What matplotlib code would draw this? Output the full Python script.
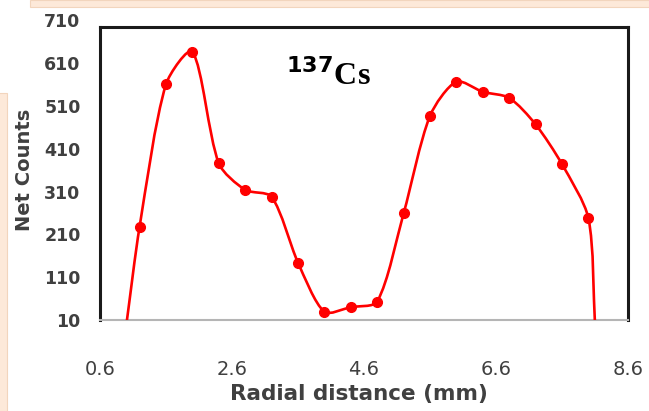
import numpy as np
import matplotlib
matplotlib.use("Agg")
import matplotlib.pyplot as plt
from matplotlib.path import Path
from matplotlib.patches import PathPatch, Rectangle

# radial scan data (137Cs)
radial_mm = [1.0, 1.2, 1.6, 2.0, 2.4, 2.8, 3.2, 3.6, 4.0, 4.4, 4.8,
             5.2, 5.6, 6.0, 6.4, 6.8, 7.2, 7.6, 8.0, 8.1]
net_counts = [0, 228, 561, 637, 376, 314, 298, 144, 29, 40, 53,
              259, 487, 567, 543, 529, 467, 374, 248, 0]
marked = slice(1, -1)  # edge points carry no marker

x_ticks = [0.6, 2.6, 4.6, 6.6, 8.6]
y_ticks = [10, 110, 210, 310, 410, 510, 610, 710]

label_col = "#404040"
peach = "#fde9d9"

fig = plt.figure(figsize=(6.49, 4.11), dpi=100)
fig.patch.set_facecolor("white")

# decorative page strips from the original screenshot
fig.patches.append(Rectangle((30 / 649, 1 - 7 / 411), 1, 7 / 411, transform=fig.transFigure,
                             facecolor=peach, edgecolor="#f2d5bd", lw=0.8, zorder=0))
fig.patches.append(Rectangle((-0.01, 0), 6.5 / 649 + 0.01, 1 - 93 / 411, transform=fig.transFigure,
                             facecolor=peach, edgecolor="#f2d5bd", lw=0.8, zorder=0))

ax = fig.add_axes([100 / 649, 1 - 320 / 411, 528 / 649, 299.6 / 411])
ax.set_xlim(0.6, 8.6)
ax.set_ylim(10, 710)

# smooth line through the points, Bezier segments built in screen space
# with control arms scaled by neighbouring segment lengths (Excel-like)
pts = ax.transData.transform(np.column_stack([radial_mm, net_counts]).astype(float))
n = len(pts)
tension = 0.27
verts = [pts[0]]
codes = [Path.MOVETO]
for i in range(n - 1):
    p0 = pts[max(i - 1, 0)]
    p1 = pts[i]
    p2 = pts[i + 1]
    p3 = pts[min(i + 2, n - 1)]
    d01 = np.hypot(*(p1 - p0))
    d12 = np.hypot(*(p2 - p1))
    d23 = np.hypot(*(p3 - p2))
    c1 = p1 + tension * (p2 - p0) * d12 / max(d01 + d12, 1e-9)
    c2 = p2 - tension * (p3 - p1) * d12 / max(d12 + d23, 1e-9)
    verts += [c1, c2, p2]
    codes += [Path.CURVE4] * 3
verts = ax.transData.inverted().transform(np.array(verts))
curve = PathPatch(Path(verts, codes), facecolor="none", edgecolor="#ff0000", lw=1.9, zorder=3)
ax.add_patch(curve)
curve.set_clip_path(ax.patch)

ax.plot(radial_mm[marked], net_counts[marked], linestyle="none", marker="o",
        markersize=7, color="#ff0000", zorder=4)

ax.set_xticks(x_ticks)
ax.set_xticklabels([f"{t:.1f}" for t in x_ticks])
ax.set_yticks(y_ticks)
ax.tick_params(axis="both", length=0, colors=label_col)
ax.tick_params(axis="x", pad=29, labelsize=14)
ax.tick_params(axis="y", pad=14, labelsize=12.5)
for lab in ax.get_xticklabels() + ax.get_yticklabels():
    lab.set_fontweight("bold")

top = 695
for side in ["left", "right"]:
    ax.spines[side].set_bounds(10, top)
    ax.spines[side].set_linewidth(2.2)
    ax.spines[side].set_color("#1a1a1a")
ax.spines["top"].set_position(("data", top))
ax.spines["top"].set_linewidth(2.2)
ax.spines["top"].set_color("#1a1a1a")
ax.spines["bottom"].set_color("#b5b5b5")
ax.spines["bottom"].set_linewidth(1.5)

ax.set_xlabel("Radial distance (mm)", fontsize=15.5, fontweight="bold", color=label_col)
ax.set_ylabel("Net Counts", fontsize=14, fontweight="bold", color=label_col)
ax.xaxis.set_label_coords(0.49, -0.215)
ax.yaxis.set_label_coords(-0.125, 0.5)

ax.text(0.352, 0.785, r"$^{\mathbf{137}}$Cs", transform=ax.transAxes, fontsize=23,
        fontweight="bold", family="Liberation Serif", color="black")

fig.savefig("out.png", dpi=100)
